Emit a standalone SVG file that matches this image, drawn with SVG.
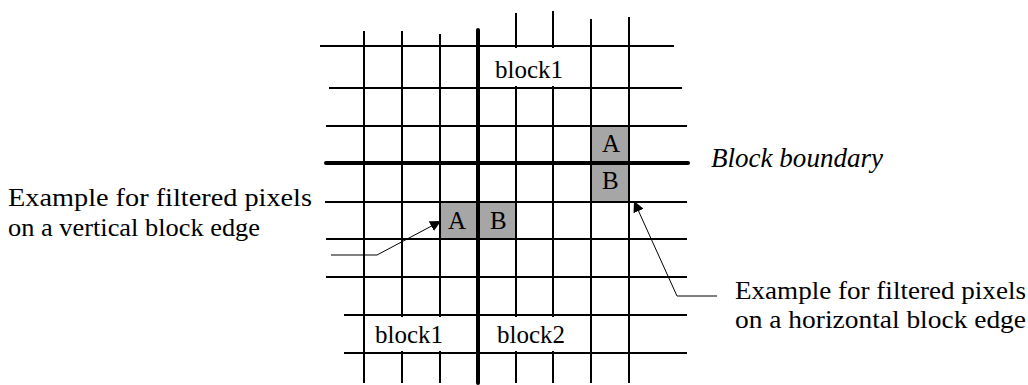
<svg xmlns="http://www.w3.org/2000/svg" width="1028" height="385" viewBox="0 0 1028 385">
  <style>
    .thin { stroke: #000; stroke-width: 2; fill: none; }
    .thick { stroke: #000; stroke-width: 4; fill: none; stroke-linecap: round; }
    .cell { fill: #a6a6a6; stroke: none; }
    .mask { fill: #fff; stroke: none; }
    text { font-family: 'Liberation Serif', 'DejaVu Serif', serif; font-size: 25px; fill: #000; }
    .lbl { font-size: 26px; }
    .it { font-style: italic; font-size: 27px; }
    .conn { stroke: #000; stroke-width: 1; fill: none; }
  </style>
  <defs>
    <marker id="arr" viewBox="0 0 10 10" refX="10" refY="5" markerWidth="11" markerHeight="11" markerUnits="userSpaceOnUse" orient="auto">
      <path d="M0,0 L10,5 L0,10 z" fill="#000"/>
    </marker>
  </defs>

  <g id="pixels">
    <rect class="cell" x="440" y="202" width="38" height="37"/>
    <rect class="cell" x="478" y="202" width="38" height="37"/>
    <rect class="cell" x="591" y="126" width="38" height="37"/>
    <rect class="cell" x="591" y="163" width="38" height="39"/>
  </g>

  <g id="grid">
    <line class="thin" x1="320" y1="46" x2="674" y2="46"/>
    <line class="thin" x1="329" y1="88" x2="682" y2="88"/>
    <line class="thin" x1="326" y1="126" x2="687" y2="126"/>
    <line class="thin" x1="325" y1="202" x2="687" y2="202"/>
    <line class="thin" x1="326" y1="239" x2="687" y2="239"/>
    <line class="thin" x1="326" y1="277" x2="687" y2="277"/>
    <line class="thin" x1="344" y1="315" x2="687" y2="315"/>
    <line class="thin" x1="344" y1="353" x2="687" y2="353"/>

    <line class="thin" x1="364" y1="31" x2="364" y2="383"/>
    <line class="thin" x1="402" y1="31" x2="402" y2="383"/>
    <line class="thin" x1="440" y1="34" x2="440" y2="383"/>
    <line class="thin" x1="516" y1="13" x2="516" y2="383"/>
    <line class="thin" x1="553" y1="11" x2="553" y2="383"/>
    <line class="thin" x1="591" y1="19" x2="591" y2="383"/>
    <line class="thin" x1="629" y1="17" x2="629" y2="383"/>

    <line class="thick" x1="478" y1="30" x2="478" y2="383"/>
    <line class="thick" x1="326" y1="163" x2="688" y2="163"/>
  </g>

  <g id="block1-top">
    <rect class="mask" x="481" y="48" width="108" height="38"/>
    <text x="495" y="78">block1</text>
  </g>
  <g id="block1-bottom">
    <rect class="mask" x="366" y="317" width="110" height="34"/>
    <text x="375" y="343">block1</text>
  </g>
  <g id="block2-bottom">
    <rect class="mask" x="481" y="317" width="108" height="34"/>
    <text x="497" y="343">block2</text>
  </g>

  <g id="pixel-labels">
    <text x="448" y="229">A</text>
    <text x="490" y="229">B</text>
    <text x="602" y="152">A</text>
    <text x="602" y="189">B</text>
  </g>

  <g id="connectors">
    <polyline class="conn" points="331,255 377,255 441,221" marker-end="url(#arr)"/>
    <polyline class="conn" points="717,296 677,296 634,201" marker-end="url(#arr)"/>
  </g>

  <g id="label-vertical">
    <text class="lbl" x="8" y="206" textLength="304" lengthAdjust="spacingAndGlyphs">Example for filtered pixels</text>
    <text class="lbl" x="8" y="236" textLength="252" lengthAdjust="spacingAndGlyphs">on a vertical block edge</text>
  </g>
  <g id="label-boundary">
    <text class="it" x="711" y="166.5" textLength="172" lengthAdjust="spacingAndGlyphs">Block boundary</text>
  </g>
  <g id="label-horizontal">
    <text class="lbl" x="735" y="299" textLength="291" lengthAdjust="spacingAndGlyphs">Example for filtered pixels</text>
    <text class="lbl" x="735" y="328" textLength="291" lengthAdjust="spacingAndGlyphs">on a horizontal block edge</text>
  </g>
</svg>
